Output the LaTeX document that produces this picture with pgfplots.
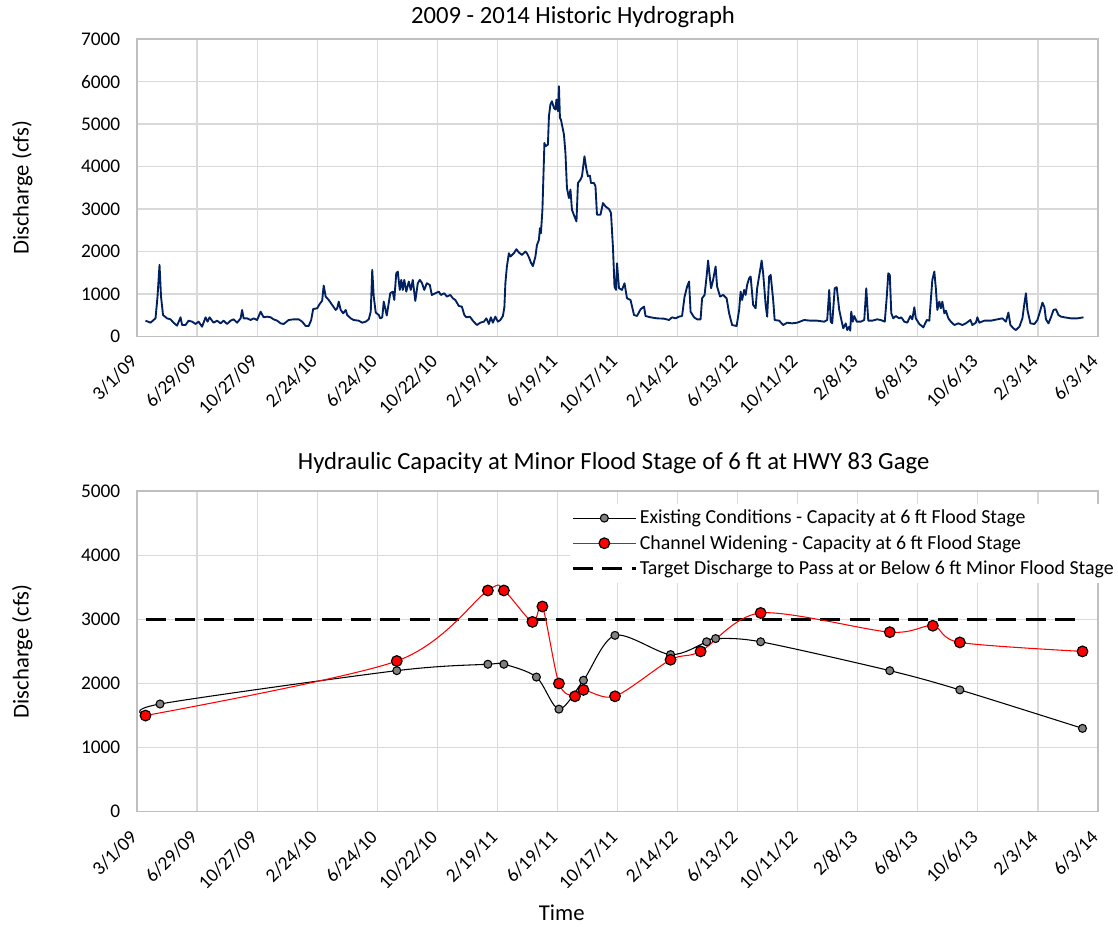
\documentclass[border=0pt]{standalone}
\usepackage{fontspec}
\setmainfont{Carlito}
\usepackage{pgfplots}
\pgfplotsset{compat=1.18}

\definecolor{navy}{RGB}{0,32,96}
\definecolor{gridgray}{RGB}{217,217,217}
\definecolor{axisgray}{RGB}{191,191,191}
\definecolor{markgray}{RGB}{128,128,128}

% days since 3/1/09
\pgfplotsset{
  datechart/.style={
    scale only axis,
    width=720.75pt,
    xmin=0, xmax=1920,
    ymin=0,
    xtick={0,120,...,1920},
    xticklabels={3/1/09,6/29/09,10/27/09,2/24/10,6/24/10,10/22/10,2/19/11,6/19/11,
      10/17/11,2/14/12,6/13/12,10/11/12,2/8/13,6/8/13,10/6/13,2/3/14,6/3/14},
    ytick distance=1000,
    grid=major,
    major grid style={draw=gridgray, line width=0.9pt},
    axis line style={draw=axisgray, line width=0.9pt},
    tick style={draw=none},
    /pgf/number format/1000 sep={},
    /pgf/number format/assume math mode=true,
    tick label style={font=\fontsize{14.5}{17}\selectfont},
    x tick label style={rotate=45, anchor=east},
    xticklabel shift=14pt,
    yticklabel shift=9pt,
    title style={font=\fontsize{18.5}{22}\selectfont, anchor=center},
    label style={font=\fontsize{17}{20}\selectfont},
    ylabel={Discharge (cfs)},
    ylabel style={at={(axis description cs:-0.1193,0.5)}, anchor=center},
  },
}

\begin{document}
\begin{tikzpicture}
\useasboundingbox (0,0) rectangle (838.5pt,694.5pt);

\begin{axis}[
  datechart,
  at={(102.75pt,442.1pt)}, anchor=south west,
  height=223.1pt,
  ymax=7000,
  title={2009 - 2014 Historic Hydrograph},
  title style={at={(0.4537,1)}, yshift=10.5pt},
]
\addplot[navy, line width=1.4pt, line join=round] coordinates {
(17,373) (27,326) (37,428) (41,939) (45,1686) (48,939) (52,507) (60,428)
(67,405) (73,326) (80,255) (87,452) (90,271) (97,271) (103,373) (110,350)
(117,295) (123,350) (130,232) (137,452) (141,350) (145,452) (153,326) (160,373)
(167,310) (173,373) (180,295) (187,373) (193,405) (200,326) (207,428) (210,625)
(213,428) (220,428) (227,389) (233,428) (240,389) (247,585) (253,452) (260,468)
(267,452) (273,405) (280,373) (287,310) (293,295) (303,389) (313,405) (323,405)
(330,350) (337,248) (343,248) (348,389) (352,648) (360,664) (365,766) (370,845)
(373,1199) (377,939) (383,861) (390,743) (397,625) (400,664) (403,821) (407,625)
(412,546) (417,625) (420,507) (427,428) (433,389) (443,373) (450,326) (457,350)
(463,405) (467,585) (470,1568) (473,939) (477,562) (483,507) (486,428) (490,452)
(493,821) (499,495) (506,1018) (511,1057) (514,861) (518,1489) (521,1529) (525,1096)
(528,1332) (531,1096) (534,1332) (538,1057) (543,1293) (547,1096) (551,1332) (556,837)
(561,1254) (565,1332) (569,1269) (574,1096) (579,1254) (585,1214) (589,979) (596,1018)
(603,1057) (607,979) (614,1018) (619,939) (626,979) (631,900) (636,861) (643,719)
(649,704) (654,507) (658,452) (665,468) (671,373) (679,271) (686,326) (693,350)
(698,428) (703,295) (707,452) (711,326) (716,468) (721,350) (726,389) (731,483)
(734,688) (736,1254) (739,1647) (743,1961) (746,1883) (753,1961) (758,2055) (763,1977)
(769,1922) (776,2000) (779,1960) (783,1867) (787,1740) (791,1655) (796,1883) (799,2150)
(803,2276) (805,2550) (807,2433) (810,2983) (814,4555) (816,4477) (821,4516) (823,5184)
(826,5459) (829,5537) (833,5380) (836,5341) (838,5576) (841,5302) (843,5891) (845,5144)
(847,5105) (853,4752) (856,4320) (859,3495) (863,3259) (866,3456) (869,2983) (874,2826)
(878,2708) (881,3613) (886,3691) (889,3770) (894,4241) (898,3927) (901,3770) (905,3786)
(907,3613) (913,3613) (916,3534) (919,2866) (926,2866) (931,3141) (936,3062) (943,3000)
(947,2905) (951,2080) (954,1175) (957,1097) (959,1725) (963,1136) (969,1097) (974,1254)
(979,900) (986,861) (993,507) (999,483) (1006,640) (1013,704) (1016,483) (1026,452)
(1039,428) (1053,420) (1063,389) (1069,452) (1076,428) (1083,468) (1089,483) (1094,939)
(1099,1175) (1103,1293) (1106,585) (1113,452) (1119,405) (1126,405) (1129,900) (1134,979)
(1138,1411) (1141,1788) (1145,1332) (1147,1136) (1151,1332) (1156,1647) (1159,1175) (1165,939)
(1171,979) (1178,900) (1183,546) (1189,271) (1198,248) (1203,625) (1206,1057) (1209,861)
(1213,1096) (1216,979) (1219,1214) (1223,1372) (1226,1411) (1231,743) (1236,664) (1239,1136)
(1245,1568) (1248,1788) (1251,1489) (1256,743) (1259,468) (1263,1411) (1266,1450) (1271,861)
(1274,389) (1283,373) (1291,271) (1299,326) (1309,310) (1319,326) (1333,389) (1346,373)
(1359,373) (1373,350) (1379,389) (1383,1096) (1386,350) (1389,310) (1394,1136) (1398,1159)
(1403,625) (1407,405) (1411,193) (1416,310) (1419,153) (1423,232) (1425,138) (1427,585)
(1430,350) (1433,483) (1438,350) (1446,350) (1453,389) (1457,1136) (1461,373) (1469,373)
(1479,405) (1486,389) (1494,350) (1498,939) (1501,1489) (1504,1450) (1507,546) (1511,428)
(1516,483) (1523,428) (1527,452) (1533,350) (1539,326) (1545,483) (1549,405) (1553,688)
(1556,428) (1563,295) (1571,216) (1578,389) (1583,373) (1586,861) (1589,1332) (1593,1529)
(1596,1136) (1599,625) (1603,821) (1606,664) (1609,821) (1613,546) (1616,609) (1621,428)
(1626,350) (1633,271) (1641,310) (1649,271) (1656,310) (1665,389) (1669,271) (1676,326)
(1679,452) (1683,326) (1693,373) (1706,373) (1719,405) (1729,428) (1736,350) (1741,562)
(1745,271) (1751,193) (1756,153) (1763,232) (1769,428) (1773,782) (1776,1018) (1779,625)
(1785,310) (1793,295) (1799,389) (1805,625) (1809,798) (1813,688) (1816,405) (1821,310)
(1826,452) (1831,625) (1836,641) (1841,507) (1846,468) (1853,452) (1866,428) (1879,428)
(1891,452)
};
\end{axis}

\begin{axis}[
  datechart,
  at={(102.75pt,85.7pt)}, anchor=south west,
  height=240.5pt,
  ymax=5000,
  title={Hydraulic Capacity at Minor Flood Stage of 6 ft at HWY 83 Gage},
  title style={at={(0.496,1)}, yshift=15pt},
  xlabel={Time},
  xlabel style={at={(axis description cs:0.442,0)}, anchor=center, yshift=-76pt},
  legend style={at={(1.0208,0.962)}, anchor=north east, draw=none, fill=white,
    font=\fontsize{14.9}{17}\selectfont, cells={anchor=west},
    inner xsep=1pt, inner ysep=3pt, row sep=3pt},
  legend image code/.code={
    \draw[mark repeat=2, mark phase=2, #1] plot coordinates {(0pt,0pt) (23.5pt,0pt) (47pt,0pt)};},
]
% target line, drawn first so the markers sit on it
\addplot[black, line width=2.2pt, dash pattern=on 15pt off 7pt, forget plot]
  coordinates {(17,3000) (1889,3000)};

\addplot[black, line width=0.8pt, smooth, mark=*, mark size=3pt,
  mark options={fill=markgray, draw=black, line width=0.8pt, solid}] coordinates {
(17,1500) (46,1680) (519,2200) (701,2300) (733,2300) (798,2100) (843,1600) (892,2050)
(955,2750) (1066,2450) (1138,2650) (1156,2700) (1246,2650) (1504,2200) (1644,1900) (1889,1300)
};
\addlegendentry{Existing Conditions - Capacity at 6 ft Flood Stage}

\addplot[red, line width=0.8pt, smooth, mark=*, mark size=4pt,
  mark options={fill=red, draw=black, line width=0.9pt, solid}] coordinates {
(17,1500) (519,2350) (701,3450) (733,3450) (790,2960) (810,3200) (843,2000) (875,1800)
(892,1900) (955,1800) (1066,2370) (1126,2500) (1246,3100) (1504,2800) (1590,2900) (1644,2640)
(1889,2500)
};
\addlegendentry{Channel Widening - Capacity at 6 ft Flood Stage}

\addlegendimage{black, line width=2.2pt, dash pattern=on 15pt off 7pt}
\addlegendentry{Target Discharge to Pass at or Below 6 ft Minor Flood Stage}
\end{axis}
\end{tikzpicture}
\end{document}
